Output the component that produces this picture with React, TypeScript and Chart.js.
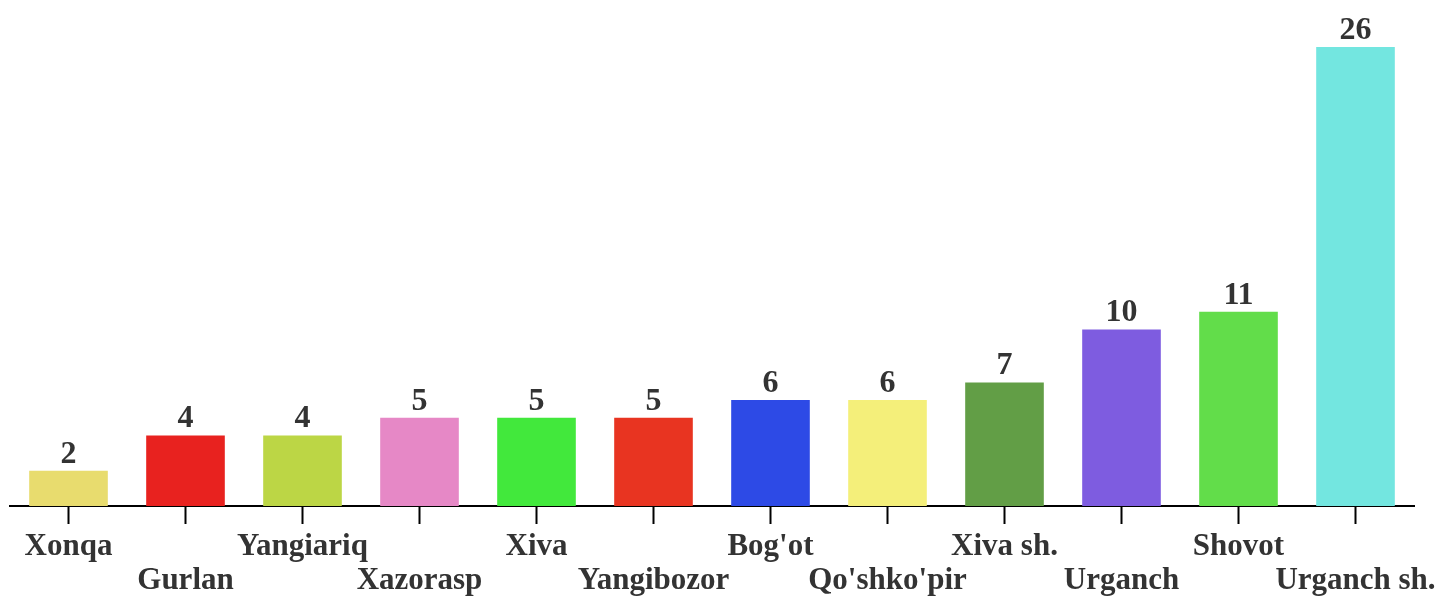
import React, { useEffect, useRef } from "react";
import { Chart, registerables } from "chart.js";

Chart.register(...registerables);

const categories = [
  "Xonqa", "Gurlan", "Yangiariq", "Xazorasp", "Xiva", "Yangibozor",
  "Bog'ot", "Qo'shko'pir", "Xiva sh.", "Urganch", "Shovot", "Urganch sh.",
];
const values = [2, 4, 4, 5, 5, 5, 6, 6, 7, 10, 11, 26];
const barColors = [
  "#e8dc6e", "#e8221f", "#bcd645", "#e688c6", "#42e83c", "#e83421",
  "#2d4ae6", "#f4ef7a", "#629e46", "#7e5ce0", "#62dd4a", "#73e6e0",
];

const FONT_FAMILY = '"Liberation Serif", "Times New Roman", serif';
const TEXT_COLOR = "#333333";

const valueLabelPlugin = {
  id: "valueLabels",
  afterDatasetsDraw(chart: any) {
    const ctx = chart.ctx;
    const meta = chart.getDatasetMeta(0);
    ctx.save();
    ctx.font = `bold 32px ${FONT_FAMILY}`;
    ctx.fillStyle = TEXT_COLOR;
    ctx.textAlign = "center";
    ctx.textBaseline = "alphabetic";
    meta.data.forEach((bar: any, i: number) => {
      ctx.fillText(String(values[i]), bar.x, bar.y - 8);
    });
    ctx.restore();
  },
};

export default function App() {
  const canvasRef = useRef<HTMLCanvasElement | null>(null);

  useEffect(() => {
    const canvas = canvasRef.current;
    if (!canvas) return;
    const labels = categories.map((c, i) => (i % 2 === 0 ? c : ["", c]));
    const chart = new Chart(canvas, {
      type: "bar",
      data: {
        labels,
        datasets: [
          {
            data: values,
            backgroundColor: barColors,
            borderWidth: 0,
            categoryPercentage: 1,
            barPercentage: 0.672,
          },
        ],
      },
      options: {
        responsive: false,
        animation: false,
        layout: { padding: { left: 10, right: 26, top: 47, bottom: 0 } },
        plugins: {
          legend: { display: false },
          tooltip: { enabled: false },
          title: { display: false },
        },
        scales: {
          x: {
            offset: true,
            afterFit: (scale: any) => {
              scale.height = 90;
              scale.paddingLeft = 0;
              scale.paddingRight = 0;
            },
            grid: {
              offset: false,
              drawOnChartArea: false,
              drawTicks: true,
              tickLength: 18,
              tickWidth: 2,
              tickColor: "#000000",
            },
            border: { display: true, color: "#000000", width: 2 },
            ticks: {
              autoSkip: false,
              maxRotation: 0,
              minRotation: 0,
              padding: 6,
              color: TEXT_COLOR,
              font: { family: FONT_FAMILY, size: 31, weight: "bold", lineHeight: "34px" },
            },
          },
          y: {
            display: false,
            min: 0,
            max: 26,
          },
        },
      },
      plugins: [valueLabelPlugin],
    });
    return () => chart.destroy();
  }, []);

  return (
    <div style={{ position: "absolute", left: 0, top: 0, width: 1440, height: 596, background: "#fff" }}>
      <canvas ref={canvasRef} width={1440} height={596} />
    </div>
  );
}
